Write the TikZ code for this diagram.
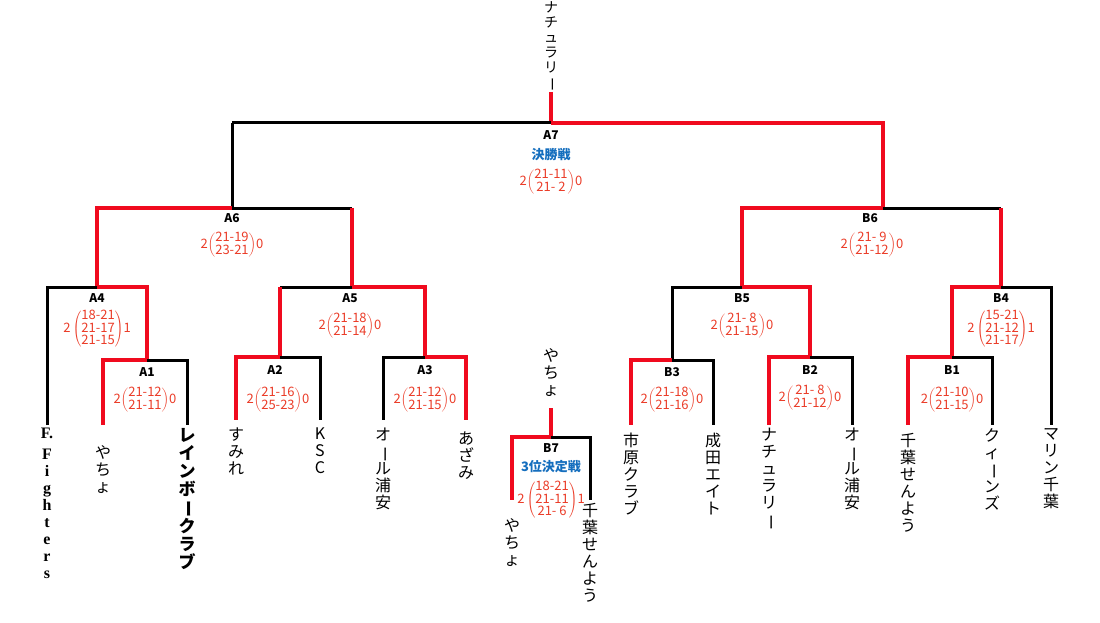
\documentclass[tikz,border=0pt]{standalone}
\usepackage{fontspec}
\usepackage{graphicx}
\setmainfont{Noto Sans CJK JP}
\newfontfamily\lat{Liberation Serif}
\definecolor{wred}{RGB}{240,10,30}
\definecolor{sred}{RGB}{235,60,40}
\definecolor{bblue}{RGB}{20,110,190}
\newcommand{\vbar}{\rotatebox[origin=c]{-90}{ー}}
\newcommand{\scoreB}[4]{\color{sred}\renewcommand\arraystretch{0.8}#1$\left(\vcenter{\hbox{\begin{tabular}{@{}c@{}}#2\\#3\end{tabular}}}\right)$#4}
\newcommand{\scoreC}[5]{\color{sred}\renewcommand\arraystretch{0.8}#1\,$\left(\vcenter{\hbox{\begin{tabular}{@{}c@{}}#2\\#3\\#4\end{tabular}}}\right)$#5}
\begin{document}
\begin{tikzpicture}[x=1pt,y=-1pt,
  bk/.style={line width=3pt,black},
  rd/.style={line width=4pt,wred},
  lbl/.style={font=\fontsize{12}{12}\selectfont\bfseries},
  sco/.style={font=\fontsize{13}{14}\selectfont, inner sep=0pt},
  nm/.style={anchor=north,align=center,inner sep=0pt,font=\fontsize{16}{17}\selectfont},
  tt/.style={font=\fontsize{13}{13}\selectfont\bfseries,text=bblue,inner sep=0pt}]
\useasboundingbox (0,0) rectangle (1100,623);
\fill[white] (0,0) rectangle (1100,623);
% top
\node[nm,anchor=north,font=\fontsize{14}{15}\selectfont] (champ) at (551,1) {ナ\\チ\\ュ\\ラ\\リ\\\vbar};
\coordinate (ctop) at (551,92);
\draw[rd] (ctop) -- (551,123);
% A7
\draw[bk] (232,123) -- (551,123);
\draw[rd] (551,123) -- (883,123) -- (883,208);
\draw[bk] (232,123) -- (232,208);
\node[lbl] (a7) at (551,135) {A7};
\node[tt] (f) at (551,155) {決勝戦};
\node[sco] (s7) at (551,182) {\scoreB{2}{21-11}{21- 2}{0}};
% A6
\draw[bk] (232,208) -- (352,208);
\draw[rd] (97,287) -- (97,208) -- (232,208);
\draw[rd] (352,208) -- (352,287);
\node[lbl] (a6) at (232,218) {A6};
\node[sco] (s6) at (232,245) {\scoreB{2}{21-19}{23-21}{0}};
% A4
\draw[bk] (47,425) -- (47,287) -- (97,287);
\draw[rd] (97,287) -- (147,287) -- (147,360);
\node[lbl] (a4) at (97,298) {A4};
\node[sco] (s4) at (97,329) {\scoreC{2}{18-21}{21-17}{21-15}{1}};
% A1
\draw[bk] (147,360) -- (187,360) -- (187,425);
\draw[rd] (147,360) -- (103,360) -- (103,425);
\node[lbl] (a1) at (147,372) {A1};
\node[sco] (s1) at (145,400) {\scoreB{2}{21-12}{21-11}{0}};
% A5
\draw[bk] (280,287) -- (352,287);
\draw[rd] (352,287) -- (425,287) -- (425,357);
\draw[rd] (280,287) -- (280,357);
\node[lbl] (a5) at (350,298) {A5};
\node[sco] (s5) at (350,326) {\scoreB{2}{21-18}{21-14}{0}};
% A2
\draw[bk] (280,357) -- (320,357) -- (320,420);
\draw[rd] (280,357) -- (236,357) -- (236,420);
\node[lbl] (a2) at (275,370) {A2};
\node[sco] (s2) at (278,400) {\scoreB{2}{21-16}{25-23}{0}};
% A3
\draw[bk] (425,357) -- (383,357) -- (383,420);
\draw[rd] (425,357) -- (466,357) -- (466,420);
\node[lbl] (a3) at (425,370) {A3};
\node[sco] (s3) at (425,400) {\scoreB{2}{21-12}{21-15}{0}};
% B6
\draw[bk] (883,208) -- (1001,208);
\draw[rd] (883,208) -- (742,208) -- (742,287);
\draw[rd] (1001,208) -- (1001,287);
\node[lbl] (b6) at (870,218) {B6};
\node[sco] (t6) at (872,245) {\scoreB{2}{21- 9}{21-12}{0}};
% B5
\draw[bk] (742,287) -- (672,287) -- (672,360);
\draw[rd] (742,287) -- (810,287) -- (810,357);
\node[lbl] (b5) at (742,298) {B5};
\node[sco] (t5) at (742,326) {\scoreB{2}{21- 8}{21-15}{0}};
% B3
\draw[bk] (672,360) -- (713,360) -- (713,425);
\draw[rd] (672,360) -- (631,360) -- (631,425);
\node[lbl] (b3) at (672,372) {B3};
\node[sco] (t3) at (672,400) {\scoreB{2}{21-18}{21-16}{0}};
% B2
\draw[bk] (810,357) -- (852,357) -- (852,425);
\draw[rd] (810,357) -- (769,357) -- (769,425);
\node[lbl] (b2) at (810,370) {B2};
\node[sco] (t2) at (810,398) {\scoreB{2}{21- 8}{21-12}{0}};
% B4
\draw[bk] (1001,287) -- (1051,287) -- (1051,425);
\draw[rd] (1001,287) -- (952,287) -- (952,357);
\node[lbl] (b4) at (1001,298) {B4};
\node[sco] (t4) at (1001,329) {\scoreC{2}{15-21}{21-12}{21-17}{1}};
% B1
\draw[bk] (952,357) -- (992,357) -- (992,425);
\draw[rd] (952,357) -- (908,357) -- (908,425);
\node[lbl] (b1) at (952,370) {B1};
\node[sco] (t1) at (952,400) {\scoreB{2}{21-10}{21-15}{0}};
% B7
\node[nm] (b7w) at (551,348) {や\\ち\\ょ};
\draw[rd] (551,408) -- (551,437);
\draw[bk] (551,437) -- (590,437) -- (590,500);
\draw[rd] (551,437) -- (512,437) -- (512,500);
\node[lbl] (b7) at (551,448) {B7};
\node[tt] (t3rd) at (551,467) {3位決定戦};
\node[sco] (t7) at (551,500) {\scoreC{2}{18-21}{21-11}{21- 6}{1}};
% names
\node[nm,font=\lat\fontsize{16}{17}\selectfont\bfseries] (n1) at (47,428) {F.\\[4pt]F\\i\\g\\h\\t\\e\\r\\s};
\node[nm] (n2) at (103,445) {や\\ち\\ょ};
\node[nm,font=\fontsize{17}{18}\selectfont\bfseries] (n3) at (187,428) {レ\\イ\\ン\\ボ\\\vbar\\ク\\ラ\\ブ};
\node[nm] (n4) at (236,428) {す\\み\\れ};
\node[nm] (n5) at (320,428) {K\\S\\C};
\node[nm] (n6) at (383,428) {オ\\\vbar\\ル\\浦\\安};
\node[nm] (n7) at (466,432) {あ\\ざ\\み};
\node[nm] (n8) at (512,518) {や\\ち\\ょ};
\node[nm] (n9) at (590,503) {千\\葉\\せ\\ん\\よ\\う};
\node[nm] (n10) at (631,433) {市\\原\\ク\\ラ\\ブ};
\node[nm] (n11) at (713,433) {成\\田\\エ\\イ\\ト};
\node[nm] (n12) at (769,428) {ナ\\チ\\ュ\\ラ\\リ\\\vbar};
\node[nm] (n13) at (852,428) {オ\\\vbar\\ル\\浦\\安};
\node[nm] (n14) at (908,433) {千\\葉\\せ\\ん\\よ\\う};
\node[nm] (n15) at (992,428) {ク\\ィ\\\vbar\\ン\\ズ};
\node[nm] (n16) at (1051,428) {マ\\リ\\ン\\千\\葉};
\end{tikzpicture}
\end{document}
